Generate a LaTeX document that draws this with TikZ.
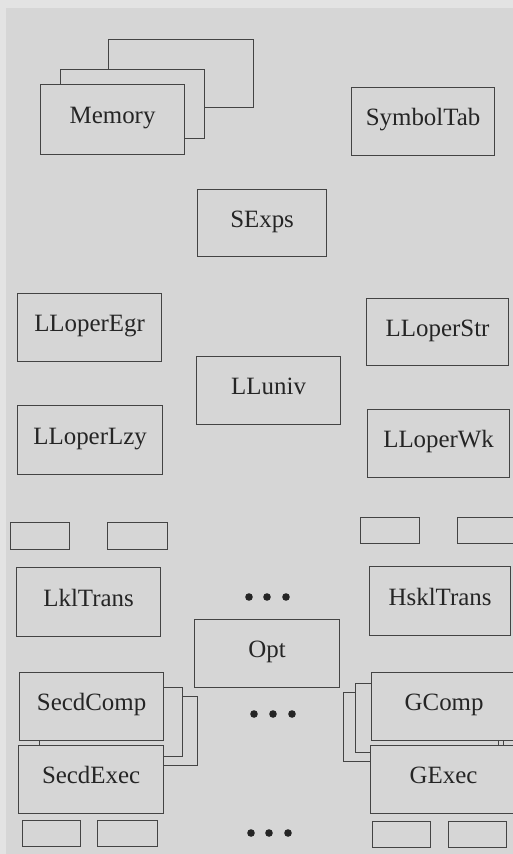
\documentclass[tikz,border=0pt]{standalone}
\usepackage{fontspec}
\setmainfont{Liberation Serif}
\definecolor{paper}{HTML}{D6D6D6}
\definecolor{paperedge}{HTML}{E3E3E3}
\definecolor{linecol}{HTML}{444444}
\definecolor{txtcol}{HTML}{252525}
\tikzset{
  panel/.style={draw=linecol, fill=paper, line width=1.2bp, inner sep=0pt,
    anchor=north west, text=txtcol,
    font=\fontsize{25}{29}\selectfont, text height=16bp, text depth=8bp},
  dotmark/.style={fill=txtcol}
}
% \mkpanel{name}{x}{y}{w}{h}{label}
\newcommand\mkpanel[6]{%
  \node[panel, minimum width=#4bp, minimum height=#5bp] (#1) at (#2,#3) {#6};}
\begin{document}
\begin{tikzpicture}[x=1bp, y=-1bp]
  \useasboundingbox (0,0) rectangle (513,854);
  \clip (0,0) rectangle (513,854);
  \fill[paper] (0,0) rectangle (513,854);
  \fill[paperedge] (0,0) rectangle (513,8);
  \fill[paperedge] (0,0) rectangle (6,854);

  % memory stack (back to front)
  \mkpanel{memC}{108}{39}{145}{68}{}
  \mkpanel{memB}{60}{69}{144}{69}{}
  \mkpanel{mem}{40}{84}{144}{70}{Memory}

  \mkpanel{sym}{351}{87}{143}{68}{SymbolTab}
  \mkpanel{sexp}{197}{189}{129}{67}{SExps}

  \mkpanel{egr}{17}{293}{144}{68}{LLoperEgr}
  \mkpanel{str}{366}{298}{142}{67}{LLoperStr}
  \mkpanel{univ}{196}{356}{144}{68}{LLuniv}
  \mkpanel{lzy}{17}{405}{145}{69}{LLoperLzy}
  \mkpanel{wk}{367}{409}{142}{68}{LLoperWk}

  % small blocks above the translators
  \mkpanel{sa}{10}{522}{59}{27}{}
  \mkpanel{sb}{107}{522}{60}{27}{}
  \mkpanel{sc}{360}{517}{59}{26}{}
  \mkpanel{sd}{457}{517}{70}{26}{}

  \mkpanel{lkl}{16}{567}{144}{69}{LklTrans}
  \mkpanel{hskl}{369}{566}{141}{69}{HsklTrans}
  \mkpanel{opt}{194}{619}{145}{68}{Opt}

  % compiler / executor stacks, left
  \mkpanel{secC}{39}{696}{158}{69}{}
  \mkpanel{secB}{39}{687}{143}{69}{}
  \mkpanel{secc}{19}{672}{144}{68}{SecdComp}
  \mkpanel{sece}{18}{745}{145}{68}{SecdExec}

  % compiler / executor stacks, right
  \mkpanel{gC}{343}{692}{160}{69}{}
  \mkpanel{gB}{355}{683}{143}{69}{}
  \mkpanel{gc}{371}{672}{145}{68}{GComp}
  \mkpanel{ge}{370}{745}{146}{68}{GExec}

  % small blocks at the bottom
  \mkpanel{ba}{22}{820}{58}{26}{}
  \mkpanel{bb}{97}{820}{60}{26}{}
  \mkpanel{bc}{372}{821}{58}{26}{}
  \mkpanel{bd}{448}{821}{58}{26}{}

  % ellipses
  \foreach \x in {249,267,286} \fill[dotmark] (\x,597) circle (3.8);
  \foreach \x in {254,273,292} \fill[dotmark] (\x,714) circle (3.8);
  \foreach \x in {251,269,288} \fill[dotmark] (\x,833) circle (3.8);
\end{tikzpicture}
\end{document}
